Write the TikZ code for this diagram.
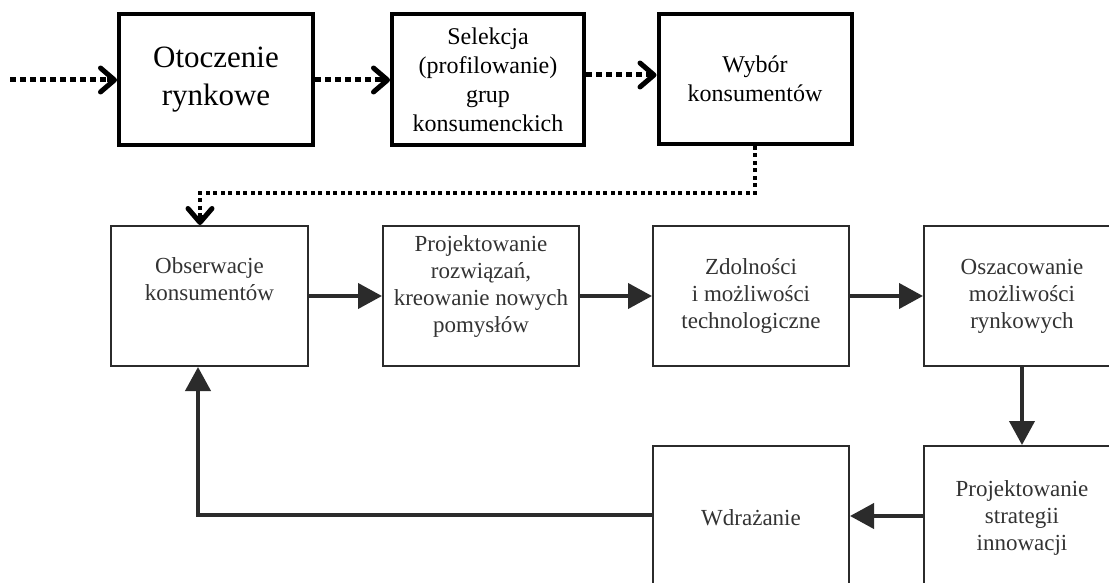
\documentclass[tikz,border=0pt]{standalone}
\usepackage{fontspec}
\setmainfont{Liberation Serif}
\usetikzlibrary{arrows.meta}
\definecolor{dk}{HTML}{2B2B2B}
\definecolor{txt}{HTML}{333333}
\begin{document}
\begin{tikzpicture}[x=1pt,y=-1pt,
  topbox/.style={draw=black,line width=4pt,minimum height=131pt,inner sep=0pt,align=center,font=\fontsize{24}{29}\selectfont},
  midbox/.style={draw=dk,line width=2pt,minimum width=196pt,minimum height=140pt,inner sep=0pt,align=center,text=txt,font=\fontsize{23}{27}\selectfont},
  lowbox/.style={midbox,minimum height=144pt},
  dotline/.style={line width=5pt,dash pattern=on 5.5pt off 4.5pt,shorten >=8pt},
  thindot/.style={line width=4pt,dash pattern=on 4pt off 3.5pt,shorten >=8pt},
  chevron/.style={solid,line width=5pt,-{Straight Barb[length=14pt,width=24pt,round]}},
  solidarrow/.style={draw=dk,line width=4pt,-{Triangle[length=24pt,width=25pt]}}
]
\useasboundingbox (0,0) rectangle (1109,583);
\clip (0,0) rectangle (1109,583);
\fill[white] (0,0) rectangle (1109,583);

% top row
\node[topbox,minimum width=194pt,font=\fontsize{31}{38}\selectfont] (otoc) at (216,80) {Otoczenie\\rynkowe};
\node[topbox,minimum width=192pt] (sel) at (488,80) {Selekcja\\(profilowanie)\\grup\\konsumenckich};
\node[topbox,minimum width=193pt,minimum height=130pt] (wyb) at (755,79) {Wybór\\konsumentów};

\coordinate (start) at (10,80);
\draw[dotline] (start) -- (otoc.west);
\draw[chevron] ([xshift=-10pt]otoc.west) -- (otoc.west);
\draw[dotline] (otoc.east) -- (sel.west);
\draw[chevron] ([xshift=-10pt]sel.west) -- (sel.west);
\draw[dotline] (sel.east |- 0,75) -- (wyb.west |- 0,75);
\draw[chevron] ([xshift=-10pt]wyb.west |- 0,75) -- (wyb.west |- 0,75);

% middle row
\node[midbox,minimum width=197pt] (obs) at (209.5,296) {Obserwacje\\konsumentów\\[6pt]};
\node[midbox] (proj) at (481,296) {Projektowanie\\rozwiązań,\\kreowanie nowych\\pomysłów\\[-4pt]};
\node[midbox] (zdol) at (751,296) {Zdolności\\i możliwości\\technologiczne};
\node[midbox] (osz) at (1022,296) {Oszacowanie\\możliwości\\rynkowych};

% bottom row
\node[lowbox] (wdr) at (751,518) {Wdrażanie};
\node[lowbox] (pst) at (1022,518) {Projektowanie\\strategii\\innowacji};

% dotted feedback from selection
\coordinate (c1) at (200,193);
\draw[thindot] (wyb.south) |- (c1) -- (c1 |- obs.north);
\draw[chevron] ([yshift=10pt]c1 |- obs.north) -- (c1 |- obs.north);

% solid arrows
\draw[solidarrow] (obs.east) -- (proj.west);
\draw[solidarrow] (proj.east) -- (zdol.west);
\draw[solidarrow] (zdol.east) -- (osz.west);
\draw[solidarrow] (osz.south) -- (pst.north);
\draw[solidarrow] (pst.west |- 0,516) -- (wdr.east |- 0,516);
\coordinate (c2) at (198,515);
\draw[solidarrow] (wdr.west |- c2) -- (c2) -- (c2 |- obs.south);
\end{tikzpicture}
\end{document}
